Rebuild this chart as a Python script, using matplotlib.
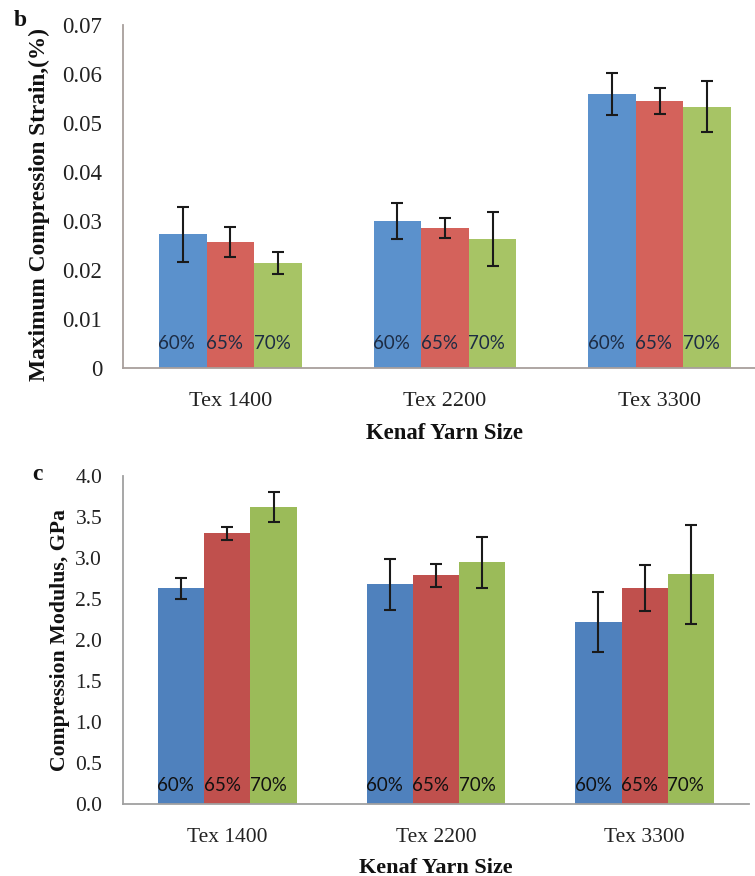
import matplotlib
matplotlib.use("Agg")
import matplotlib.pyplot as plt
import numpy as np

categories = ["Tex 1400", "Tex 2200", "Tex 3300"]
series_labels = ["60%", "65%", "70%"]

strain_60 = [0.0273, 0.0300, 0.0559]
strain_65 = [0.0257, 0.0286, 0.0545]
strain_70 = [0.0214, 0.0263, 0.0533]
strain_err_60 = [0.0056, 0.0037, 0.0043]
strain_err_65 = [0.0030, 0.0021, 0.0027]
strain_err_70 = [0.0022, 0.0055, 0.0052]

modulus_60 = [2.63, 2.68, 2.22]
modulus_65 = [3.30, 2.79, 2.63]
modulus_70 = [3.62, 2.95, 2.80]
modulus_err_60 = [0.13, 0.31, 0.365]
modulus_err_65 = [0.08, 0.14, 0.28]
modulus_err_70 = [0.18, 0.31, 0.60]

strain_ticks = [0, 0.01, 0.02, 0.03, 0.04, 0.05, 0.06, 0.07]
strain_ticklabels = ["0", "0.01", "0.02", "0.03", "0.04", "0.05", "0.06", "0.07"]
modulus_ticks = [0.0, 0.5, 1.0, 1.5, 2.0, 2.5, 3.0, 3.5, 4.0]
modulus_ticklabels = ["0.0", "0.5", "1.0", "1.5", "2.0", "2.5", "3.0", "3.5", "4.0"]

W, H = 755, 876
fig = plt.figure(figsize=(W / 100, H / 100), dpi=100)

serif = "Liberation Serif"
label_font = "Lato"


def draw(ax, vals, errs, colors, ticks, ticklabels, ylim, ylabel, text_y, text_color,
         spine_color, ytick_fs, xtick_fs, ylabel_fs, xlabel_fs, xlabel_pad):
    x = np.arange(len(categories))
    width = 0.222
    offsets = [-width, 0, width]
    for i in range(3):
        xs = x + offsets[i]
        ax.bar(xs, vals[i], width=width, color=colors[i], edgecolor="none", zorder=2)
        ax.errorbar(xs, vals[i], yerr=errs[i], fmt="none", ecolor="#1a1a1a",
                    elinewidth=1.5, capsize=4.5, capthick=1.5, zorder=3)
        for xx in xs:
            ax.text(xx - width / 2 - 0.003, text_y, series_labels[i], ha="left", va="center",
                    fontsize=13.5, family=label_font, color=text_color, zorder=4)
    ax.set_xlim(-0.5, 2.5)
    ax.set_ylim(*ylim)
    ax.set_yticks(ticks)
    ax.set_yticklabels(ticklabels, family=serif, fontsize=ytick_fs, color="#222222")
    ax.set_xticks(x)
    ax.set_xticklabels(categories, family=serif, fontsize=xtick_fs, color="#222222")
    ax.tick_params(axis="y", length=0, pad=15)
    ax.tick_params(axis="x", length=0, pad=17)
    for s in ["top", "right"]:
        ax.spines[s].set_visible(False)
    for s in ["left", "bottom"]:
        ax.spines[s].set_color(spine_color)
        ax.spines[s].set_linewidth(1.3)
    ax.set_ylabel(ylabel, family=serif, fontweight="bold", fontsize=ylabel_fs, color="#111111")
    ax.set_xlabel("Kenaf Yarn Size", family=serif, fontweight="bold", fontsize=xlabel_fs,
                  color="#111111", labelpad=xlabel_pad)


ax1 = fig.add_axes([123 / W, (H - 368) / H, 644 / W, 343 / H])
draw(ax1, [strain_60, strain_65, strain_70], [strain_err_60, strain_err_65, strain_err_70],
     ["#5b91cc", "#d4625b", "#a7c465"], strain_ticks, strain_ticklabels, (0, 0.07),
     "Maximum Compression Strain,(%)", 0.0051, "#1d2c44", "#a89f9c", 16.5, 16, 16.8, 16.4, 9)
ax1.yaxis.set_label_coords(-0.113, 0.478)

ax2 = fig.add_axes([123 / W, (H - 804) / H, 626 / W, 328 / H])
draw(ax2, [modulus_60, modulus_65, modulus_70], [modulus_err_60, modulus_err_65, modulus_err_70],
     ["#4f81bd", "#c0504d", "#9bbb59"], modulus_ticks, modulus_ticklabels, (0, 4.0),
     "Compression Modulus, GPa", 0.22, "#111111", "#a0a0a0", 15.5, 15.5, 15.7, 16, 8)
ax2.yaxis.set_label_coords(-0.085, 0.5)

fig.text(20 / W, 1 - 20 / H, "b", family=serif, fontweight="bold", fontsize=17,
         ha="center", va="center", color="#111111")
fig.text(37 / W, 1 - 474 / H, "c", family=serif, fontweight="bold", fontsize=17,
         ha="center", va="center", color="#111111")

fig.savefig("out.png", dpi=100, facecolor="white")
